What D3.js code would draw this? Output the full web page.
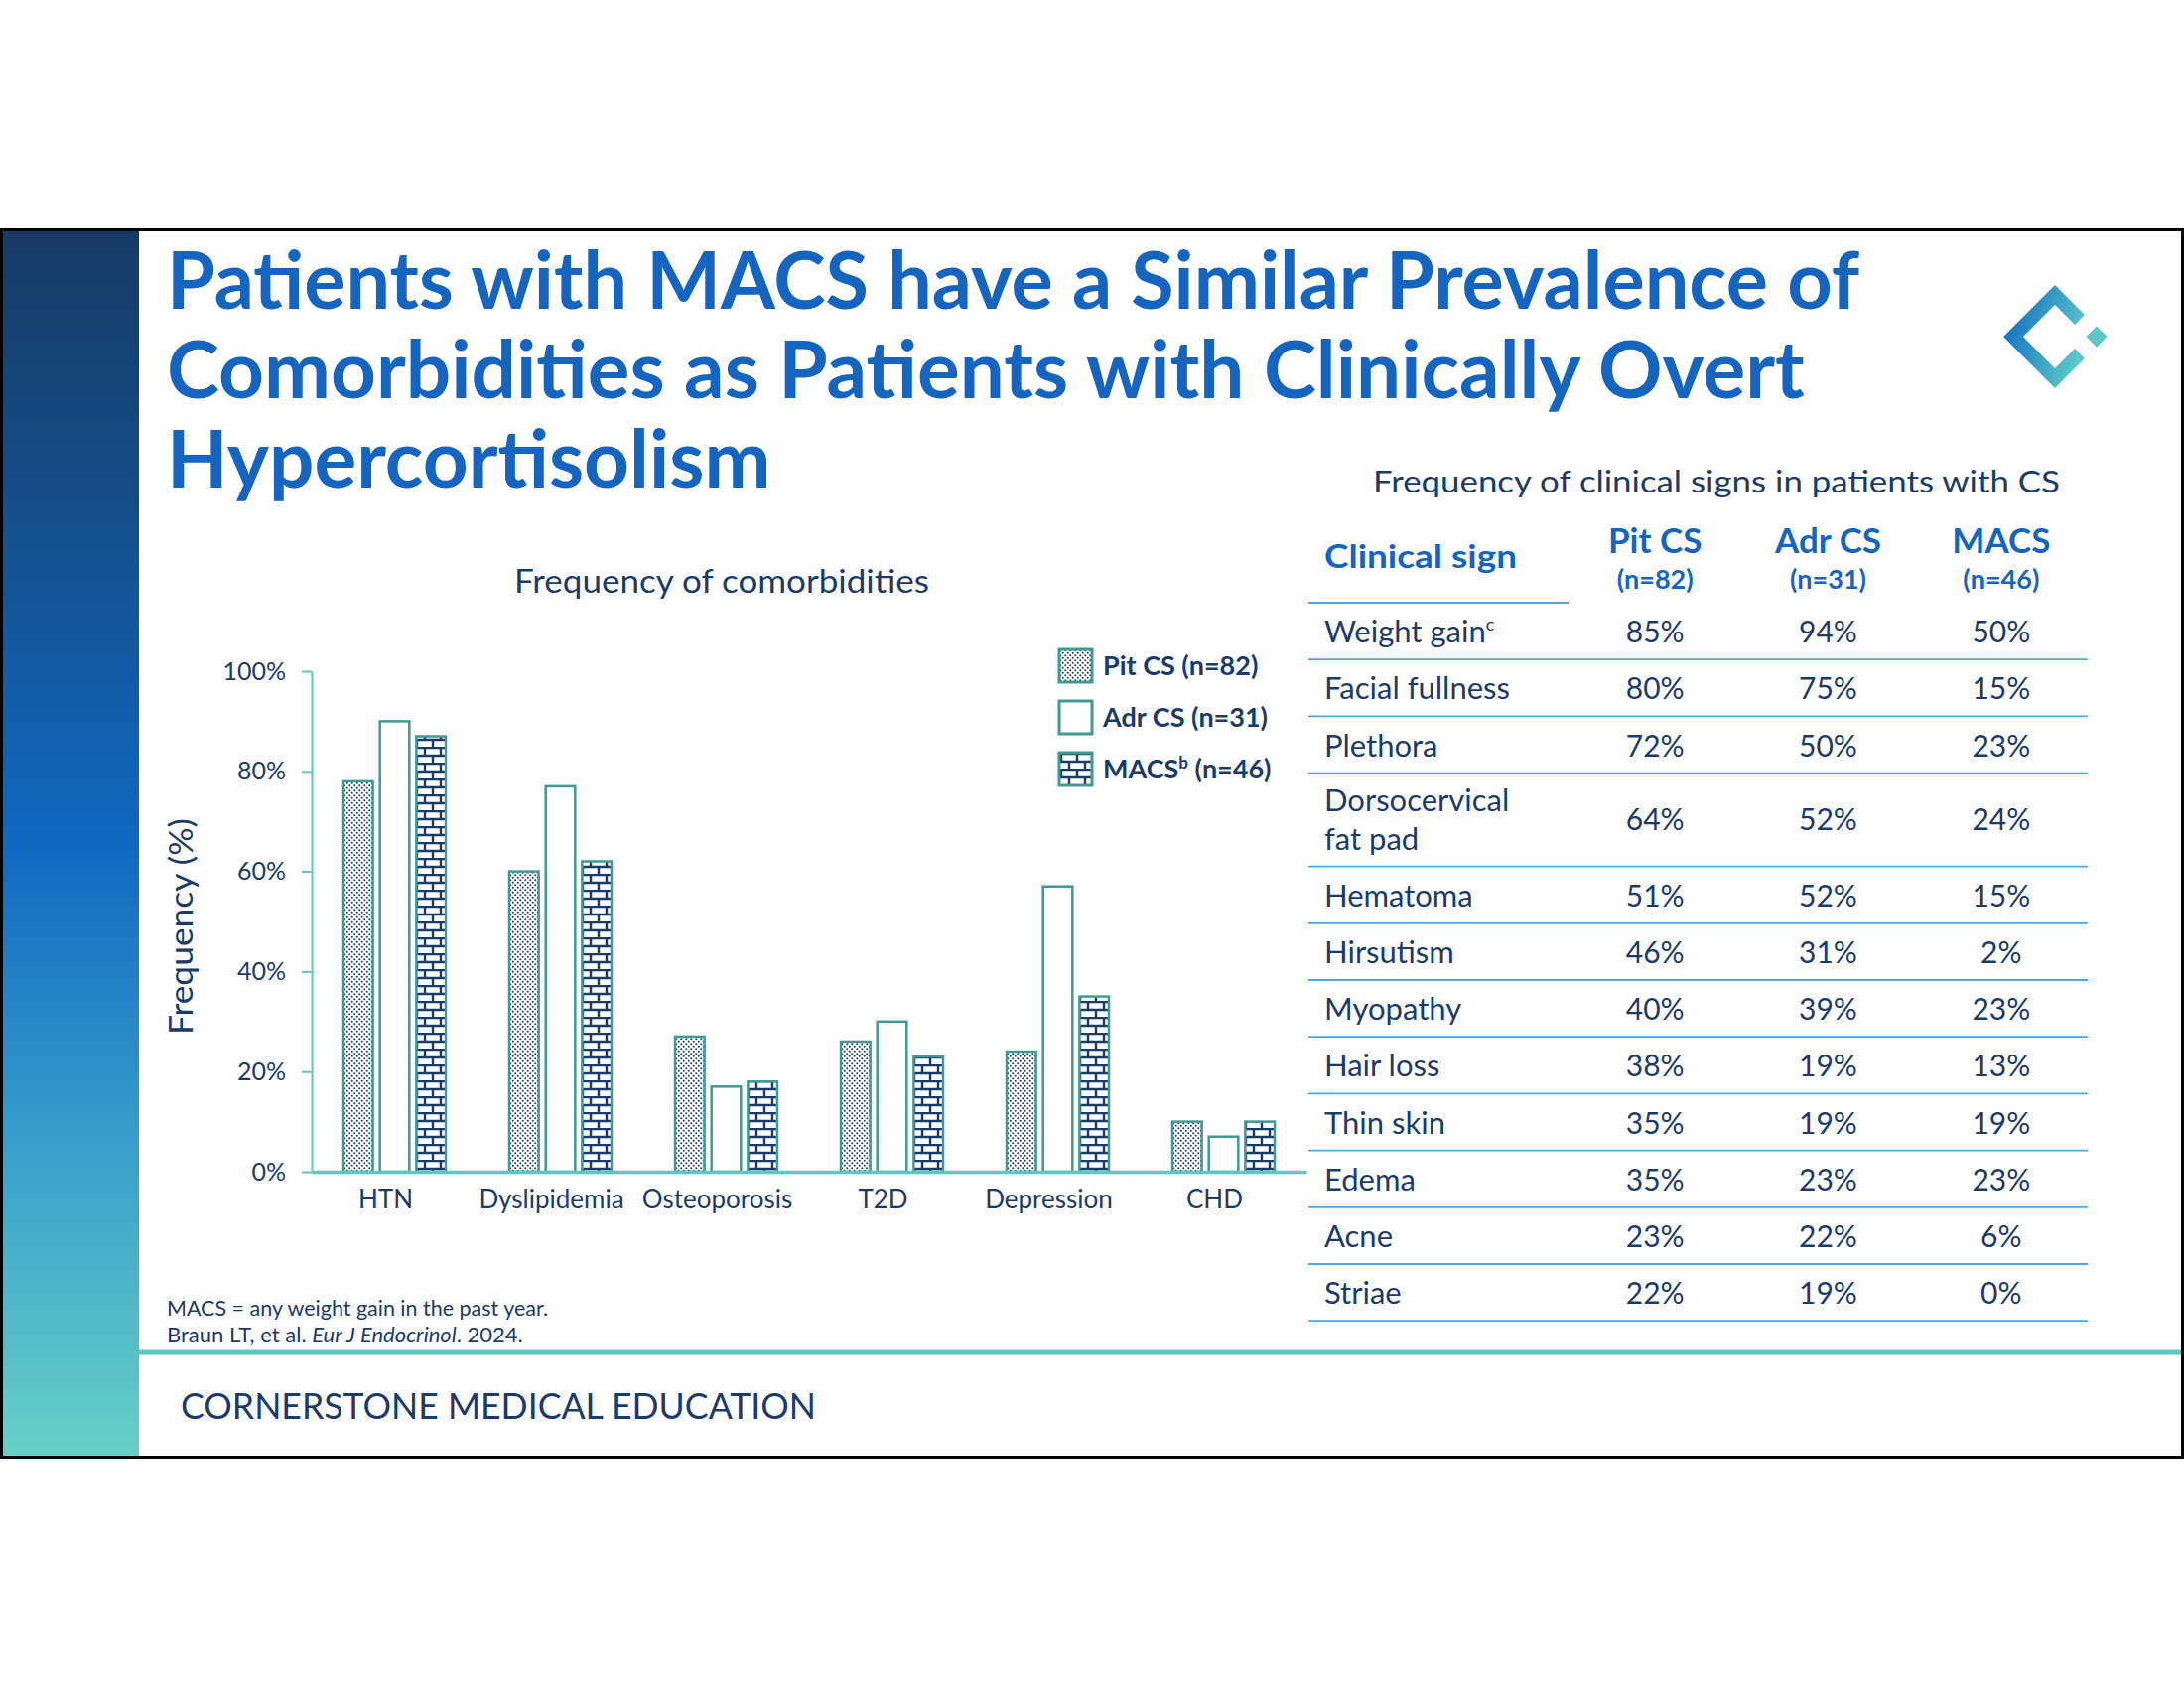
<!DOCTYPE html>
<html><head><meta charset="utf-8">
<script src="https://cdn.jsdelivr.net/npm/d3@7/dist/d3.min.js"></script>
<style>body{margin:0;background:#fff}svg{display:block}</style>
</head><body>
<svg id="c" width="2200" height="1700"></svg>
<script>
// ---------- data ----------
const titleLines = ["Patients with MACS have a Similar Prevalence of","Comorbidities as Patients with Clinically Overt","Hypercortisolism"];
const categories = ["HTN","Dyslipidemia","Osteoporosis","T2D","Depression","CHD"];
const seriesKeys = ["pit","adr","macs"];
const pitValues  = [78,60,27,26,24,10];
const adrValues  = [90,77,17,30,57,7];
const macsValues = [87,62,18,23,35,10];
const yTicks = [0,20,40,60,80,100];
const legendLabels = [["Pit CS (n=82)",""],["Adr CS (n=31)",""],["MACS","b"," (n=46)"]];

const signs = ["Weight gain","Facial fullness","Plethora","Dorsocervical\nfat pad","Hematoma","Hirsutism","Myopathy","Hair loss","Thin skin","Edema","Acne","Striae"];
const signSup = ["c","","","","","","","","","","",""];
const tablePit  = [85,80,72,64,51,46,40,38,35,35,23,22];
const tableAdr  = [94,75,50,52,52,31,39,19,19,23,22,19];
const tableMacs = [50,15,23,24,15,2,23,13,19,23,6,0];
const tableHead = [["Pit CS","(n=82)"],["Adr CS","(n=31)"],["MACS","(n=46)"]];

// ---------- setup ----------
const svg = d3.select("#c");
const FONT = "Lato, 'Open Sans', sans-serif";
const NAVY = "#1a3a6b", BLUE = "#1565c0", TEAL = "#5cc8c0", BARSTROKE = "#3f9a94";
function fit(sel, w){ sel.each(function(){ const l=this.getComputedTextLength(); if(Math.abs(l-w)/w>0.01){ this.setAttribute("textLength",w); this.setAttribute("lengthAdjust","spacingAndGlyphs"); } }); }

const defs = svg.append("defs");
const lg = defs.append("linearGradient").attr("id","side").attr("x1",0).attr("y1",0).attr("x2",0).attr("y2",1);
[[0,"#163a64"],[0.25,"#14508f"],[0.5,"#0f68c0"],[0.75,"#3a9fcc"],[1,"#66d0c6"]].forEach(s=>lg.append("stop").attr("offset",s[0]).attr("stop-color",s[1]));
const lg2 = defs.append("linearGradient").attr("id","logo").attr("x1",0).attr("y1",0.3).attr("x2",1).attr("y2",0.7);
lg2.append("stop").attr("offset",0).attr("stop-color","#1c78c4");
lg2.append("stop").attr("offset",1).attr("stop-color","#5cc8c8");
// dot pattern
const pd = defs.append("pattern").attr("id","dots").attr("patternUnits","userSpaceOnUse").attr("width",5).attr("height",5);
pd.append("rect").attr("width",5).attr("height",5).attr("fill","#fff");
pd.append("circle").attr("cx",1.25).attr("cy",1.25).attr("r",1.0).attr("fill",NAVY);
pd.append("circle").attr("cx",3.75).attr("cy",3.75).attr("r",1.0).attr("fill",NAVY);
// brick pattern
const pb = defs.append("pattern").attr("id","brick").attr("patternUnits","userSpaceOnUse").attr("width",16).attr("height",16);
pb.append("rect").attr("width",16).attr("height",16).attr("fill","#fff");
pb.append("path").attr("d","M0,1H16M0,9H16M2,1V9M10,9V17").attr("stroke",NAVY).attr("stroke-width",2.4).attr("fill","none");
const fills = {pit:"url(#dots)", adr:"#fff", macs:"url(#brick)"};

// ---------- frame ----------
svg.append("rect").attr("x",0).attr("y",231).attr("width",140).attr("height",1237).attr("fill","url(#side)");
svg.append("line").attr("x1",140).attr("x2",2200).attr("y1",1362).attr("y2",1362).attr("stroke","#5ec8c2").attr("stroke-width",5);
svg.append("rect").attr("x",1.5).attr("y",231.5).attr("width",2197).attr("height",1236).attr("fill","none").attr("stroke","#000").attr("stroke-width",3);

// title
const tW = [1705,1642,608];
svg.append("g").selectAll("text").data(titleLines).join("text")
  .attr("x",168).attr("y",(d,i)=>311+i*90).attr("font-family",FONT).attr("font-weight",700).attr("font-size",80)
  .attr("fill",BLUE).text(d=>d).each(function(d,i){ fit(d3.select(this), tW[i]); });

// logo
const logo = svg.append("g").attr("transform","translate(2070,339)");
logo.append("path").attr("d","M25,-17L0,-42L-42,0L0,42L25,17").attr("fill","none").attr("stroke","url(#logo)").attr("stroke-width",14).attr("stroke-linejoin","miter");
logo.append("rect").attr("x",-7.5).attr("y",-7.5).attr("width",15).attr("height",15).attr("fill","#5cc6c8").attr("transform","translate(42,0) rotate(45)");

// ---------- bar chart ----------
const x = d3.scaleBand().domain(categories).range([314,1316]).padding(0);
const xs = d3.scaleBand().domain(seriesKeys).range([0,103]).paddingInner(0.193).paddingOuter(0);
const y = d3.scaleLinear().domain([0,100]).range([1180,676]);
const vals = {pit:pitValues, adr:adrValues, macs:macsValues};

svg.append("text").attr("x",727).attr("y",597).attr("text-anchor","middle").attr("font-family",FONT).attr("font-size",33).attr("fill",NAVY)
  .text("Frequency of comorbidities").call(fit,418);

const ya = svg.append("g").attr("transform","translate(314,0)")
  .call(d3.axisLeft(y).tickValues(yTicks).tickFormat(d=>d+"%").tickSize(10).tickSizeOuter(0).tickPadding(16));
ya.selectAll("path,line").attr("stroke",TEAL).attr("stroke-width",2);
ya.selectAll("text").attr("font-family",FONT).attr("font-size",25).attr("fill",NAVY);

svg.append("text").attr("transform","translate(194,933) rotate(-90)").attr("text-anchor","middle").attr("font-family",FONT).attr("font-size",33).attr("fill",NAVY)
  .text("Frequency (%)").call(fit,218);

const groups = svg.append("g").selectAll("g").data(categories).join("g")
  .attr("transform",d=>`translate(${x(d)+(x.bandwidth()-103)/2},0)`);
groups.selectAll("rect").data((d,i)=>seriesKeys.map(k=>({k, v:vals[k][i]}))).join("rect")
  .attr("x",d=>xs(d.k)).attr("width",xs.bandwidth())
  .attr("y",d=>y(d.v)).attr("height",d=>y(0)-y(d.v))
  .attr("fill",d=>fills[d.k]).attr("stroke",BARSTROKE).attr("stroke-width",2.5);

const xa = svg.append("g").attr("transform","translate(0,1180)")
  .call(d3.axisBottom(x).tickSize(0).tickSizeOuter(0).tickPadding(19));
xa.select("path").attr("stroke",TEAL).attr("stroke-width",3.5);
xa.selectAll("text").attr("font-family",FONT).attr("font-size",26).attr("fill",NAVY).attr("dx",-9);

// legend
const leg = svg.append("g").selectAll("g").data(seriesKeys).join("g").attr("transform",(d,i)=>`translate(1067,${654+i*52})`);
leg.append("rect").attr("width",33).attr("height",33).attr("fill",d=>fills[d]).attr("stroke",BARSTROKE).attr("stroke-width",3);
leg.append("text").attr("x",44).attr("y",26).attr("font-family",FONT).attr("font-weight",700).attr("font-size",27).attr("fill",NAVY)
  .each(function(d,i){ const t=d3.select(this); const p=legendLabels[i];
    t.append("tspan").text(p[0]);
    if(p[1]) { t.append("tspan").attr("dy",-10).attr("font-size",17).text(p[1]); t.append("tspan").attr("dy",10).text(p[2]); }
  });

// footnotes
const fn = svg.append("g").attr("font-family",FONT).attr("font-size",21).attr("fill",NAVY);
fn.append("text").attr("x",168).attr("y",1325).text("MACS = any weight gain in the past year.").call(fit,384);
const f2 = fn.append("text").attr("x",168).attr("y",1352).attr("font-size",22);
f2.append("tspan").text("Braun LT, et al. ");
f2.append("tspan").attr("font-style","italic").text("Eur J Endocrinol");
f2.append("tspan").text(". 2024.");
svg.append("text").attr("x",182).attr("y",1429).attr("font-family",FONT).attr("font-size",37).attr("fill",NAVY)
  .text("CORNERSTONE MEDICAL EDUCATION").call(fit,640);

// ---------- table ----------
svg.append("text").attr("x",1729).attr("y",496).attr("text-anchor","middle").attr("font-family",FONT).attr("font-size",31).attr("fill",NAVY)
  .text("Frequency of clinical signs in patients with CS").call(fit,692);
const col = d3.scaleBand().domain(seriesKeys).range([1580,2103]);
const tVals = {pit:tablePit, adr:tableAdr, macs:tableMacs};
svg.append("text").attr("x",1334).attr("y",572).attr("font-family",FONT).attr("font-weight",700).attr("font-size",33).attr("fill",BLUE)
  .text("Clinical sign").call(fit,194);
svg.append("line").attr("x1",1318).attr("x2",1580).attr("y1",607).attr("y2",607).attr("stroke","#4aa8e8").attr("stroke-width",1.8);
const hd = svg.append("g").selectAll("g").data(seriesKeys).join("g").attr("transform",d=>`translate(${col(d)+col.bandwidth()/2},0)`);
hd.append("text").attr("y",557).attr("text-anchor","middle").attr("font-family",FONT).attr("font-weight",700).attr("font-size",35).attr("fill",BLUE).text((d,i)=>tableHead[i][0]);
hd.append("text").attr("y",593).attr("text-anchor","middle").attr("font-family",FONT).attr("font-weight",700).attr("font-size",27).attr("fill",BLUE).text((d,i)=>tableHead[i][1]);

const rowH = signs.map(s=>s.includes("\n")?94:57.2);
const rowTop = []; rowH.reduce((acc,h,i)=>{rowTop[i]=acc; return acc+h;},607);
const rows = svg.append("g").selectAll("g").data(signs).join("g").attr("transform",(d,i)=>`translate(0,${rowTop[i]})`);
rows.append("line").attr("x1",1318).attr("x2",2103).attr("y1",(d,i)=>rowH[i]).attr("y2",(d,i)=>rowH[i]).attr("stroke","#4aa8e8").attr("stroke-width",1.8);
rows.append("text").attr("font-family",FONT).attr("font-size",31).attr("fill",NAVY)
  .each(function(d,i){ const t=d3.select(this); const parts=d.split("\n");
    if(parts.length>1){ parts.forEach((p,j)=>t.append("tspan").attr("x",1334).attr("y",rowH[i]-36+(j-0.5)*39).text(p)); }
    else { t.attr("x",1334).attr("y",rowH[i]-17); t.append("tspan").text(d);
      if(signSup[i]) t.append("tspan").attr("dy",-12).attr("font-size",18).text(signSup[i]); }
  });
seriesKeys.forEach(k=>{
  rows.append("text").attr("x",col(k)+col.bandwidth()/2).attr("y",(d,i)=>rowH[i]-(rowH[i]>60?37:17)).attr("text-anchor","middle")
    .attr("font-family",FONT).attr("font-size",30).attr("fill",NAVY).text((d,i)=>tVals[k][i]+"%");
});
</script>
</body></html>
